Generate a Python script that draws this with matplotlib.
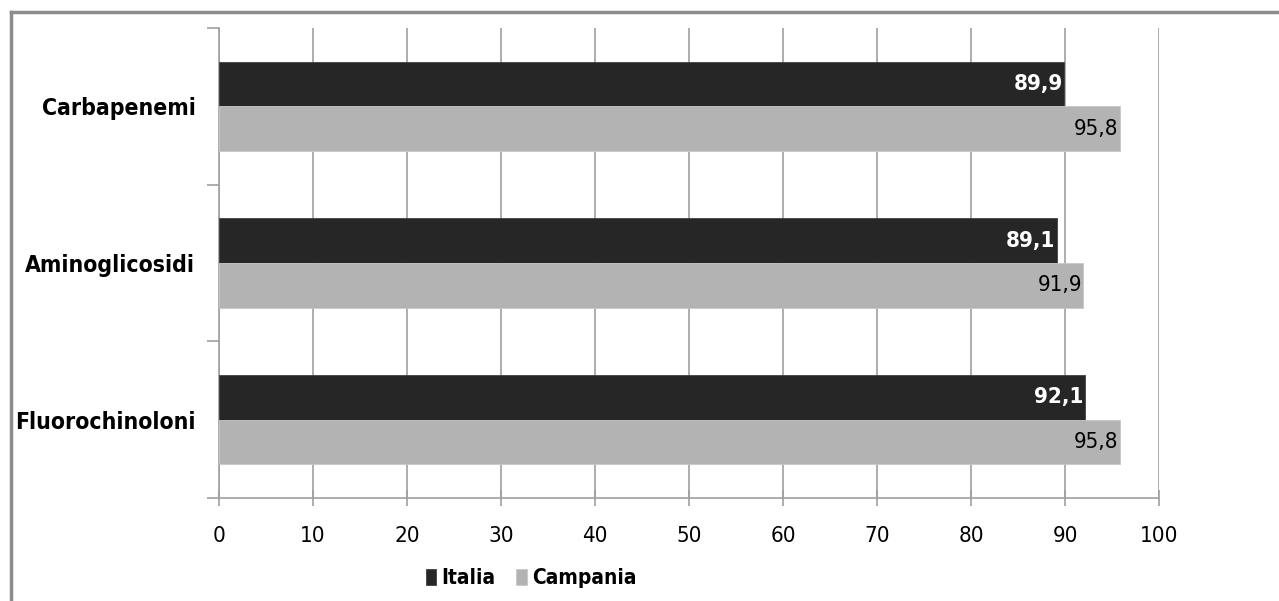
import matplotlib
matplotlib.use("Agg")
import matplotlib.pyplot as plt
from matplotlib.lines import Line2D
import numpy as np

categories = ["Carbapenemi", "Aminoglicosidi", "Fluorochinoloni"]
italia = [89.9, 89.1, 92.1]
campania = [95.8, 91.9, 95.8]
series_names = ["Italia", "Campania"]
xticks = [0, 10, 20, 30, 40, 50, 60, 70, 80, 90, 100]

FONT = dict(family="DejaVu Sans", stretch="condensed")

fig = plt.figure(figsize=(12.79, 6.01), dpi=100)
ax = fig.add_axes([219/1279, 1-498/601, (1159-219)/1279, (498-28)/601])

y = np.arange(len(categories))
h = 0.285
b1 = ax.barh(y - h/2, italia, height=h, color="#262626", edgecolor="#404040", linewidth=0.6, label=series_names[0], zorder=3)
b2 = ax.barh(y + h/2, campania, height=h, color="#b3b3b3", edgecolor="#c8c8c8", linewidth=0.6, label=series_names[1], zorder=3)

for rect, v in zip(b1, italia):
    ax.text(v - 0.1, rect.get_y() + rect.get_height()/2, f"{v:.1f}".replace(".", ","),
            ha="right", va="center", color="white", fontsize=16, fontweight="bold", zorder=4, **FONT)
for rect, v in zip(b2, campania):
    ax.text(v - 0.1, rect.get_y() + rect.get_height()/2, f"{v:.1f}".replace(".", ","),
            ha="right", va="center", color="black", fontsize=16, zorder=4, **FONT)

ax.set_xlim(0, 100)
ax.set_ylim(len(categories) - 0.5, -0.5)
ax.set_xticks(xticks)
ax.set_xticklabels([str(t) for t in xticks], fontsize=16, **FONT)
ax.set_yticks(y)
ax.set_yticklabels(categories, fontsize=16.5, fontweight="bold", **FONT)
ax.set_yticks(np.arange(-0.5, len(categories), 1.0), minor=True)
ax.tick_params(axis="y", which="major", length=0, pad=17)
ax.tick_params(axis="y", which="minor", length=9, color="#a0a0a0", width=1.2)
ax.tick_params(axis="x", which="major", length=11, color="#a0a0a0", width=1.2, pad=15, direction="inout")

ax.grid(axis="x", color="#a0a0a0", linewidth=1.2, zorder=0)
for s in ["top", "right"]:
    ax.spines[s].set_visible(False)
for s in ["left", "bottom"]:
    ax.spines[s].set_color("#a0a0a0")
    ax.spines[s].set_linewidth(1.2)

leg = fig.legend(handles=[b1, b2], labels=series_names, loc="center", bbox_to_anchor=(531/1279, 1-578/601),
                 ncol=2, frameon=False, handlelength=0.5, handleheight=0.8, handletextpad=0.25, columnspacing=1.0,
                 prop=dict(size=15, weight="bold", **FONT))

fig.add_artist(Line2D([11/1279, 1.0], [1-12/601, 1-12/601], color="#8c8c8c", linewidth=2.5, transform=fig.transFigure))
fig.add_artist(Line2D([11/1279, 11/1279], [1-12/601, 0], color="#8c8c8c", linewidth=2.5, transform=fig.transFigure))

fig.savefig("out.png", dpi=100)
